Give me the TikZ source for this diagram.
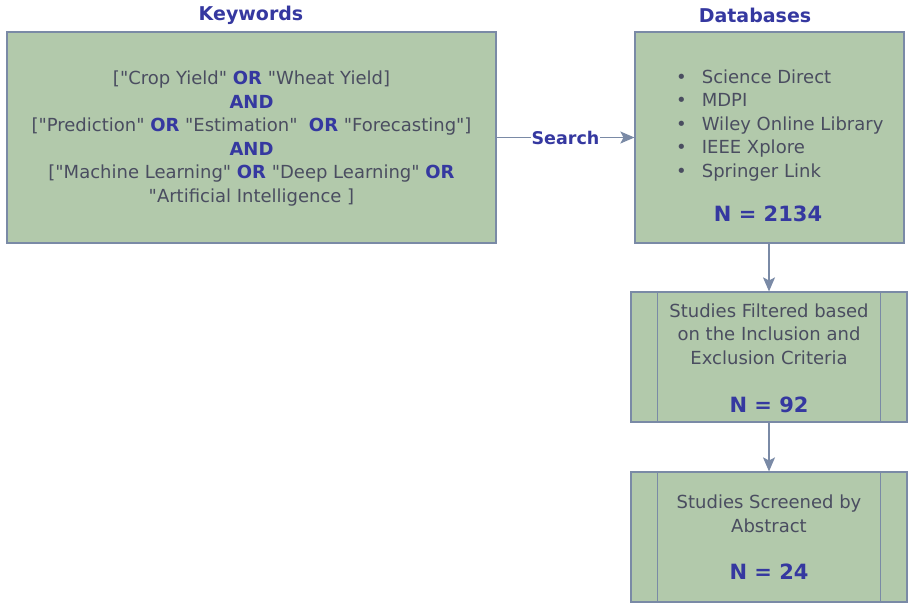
\documentclass[tikz,border=0pt]{standalone}
\usepackage{fontspec}
\setmainfont{DejaVu Sans}[Ligatures=TeXOff]
\usepackage{xcolor}
\usetikzlibrary{arrows.meta,calc}
\definecolor{boxfill}{HTML}{B2C9AB}
\definecolor{boxline}{HTML}{7A8AA6}
\definecolor{txtgrey}{HTML}{4A4D60}
\definecolor{kwblue}{HTML}{3538A0}
\newcommand{\kw}[1]{\textcolor{kwblue}{\textbf{#1}}}

\begin{document}
\begin{tikzpicture}[x=1pt, y=-1pt,
  box/.style={draw=boxline, fill=boxfill, line width=1.2pt, inner sep=0pt},
  body/.style={text=txtgrey, font=\fontsize{18}{23.5}\selectfont, align=center, inner sep=0pt},
  title/.style={text=kwblue, font=\fontsize{19}{22}\selectfont\bfseries, inner sep=0pt},
  count/.style={text=kwblue, font=\fontsize{21}{24}\selectfont\bfseries, inner sep=0pt},
  flow/.style={draw=boxline, line width=1.2pt, -{Stealth[length=14pt,width=12pt,inset=3pt]}},
]
\useasboundingbox (0,0) rectangle (909,605);
% search terms
\node[box, minimum width=489pt, minimum height=211pt] (kwbox) at (251.5,137.5) {};
\node[title] (kwtitle) at (251,15) {Keywords};
\node[body] (kwtext) at (251.5,138.5) {{[}"Crop Yield" \kw{OR} "Wheat Yield]\\
  \kw{AND}\\
  {[}"Prediction" \kw{OR} "Estimation"\ \ \kw{OR} "Forecasting"]\\
  \kw{AND}\\
  {[}"Machine Learning" \kw{OR} "Deep Learning" \kw{OR}\\
  "Artificial Intelligence ]};
% databases
\node[box, minimum width=269pt, minimum height=211pt] (dbbox) at (769.5,137.5) {};
\node[title] (dbtitle) at (755,15) {Databases};
\node[body, align=left, anchor=west] (dblist) at (676,125.5) {%
  \textbullet\hspace{15pt}Science Direct\\
  \textbullet\hspace{15pt}MDPI\\
  \textbullet\hspace{15pt}Wiley Online Library\\
  \textbullet\hspace{15pt}IEEE Xplore\\
  \textbullet\hspace{15pt}Springer Link};
\node[count] (dbn) at (768,214) {N\ =\ 2134};
% filtering steps
\node[box, minimum width=276pt, minimum height=130pt] (filt) at (769,357) {};
\draw[boxline, line width=1.2pt] ($(filt.north west)+(27,0)$) -- ($(filt.south west)+(27,0)$);
\draw[boxline, line width=1.2pt] ($(filt.north east)+(-27,0)$) -- ($(filt.south east)+(-27,0)$);
\node[body] (filttext) at (769,334) {Studies Filtered based\\on the Inclusion and\\Exclusion Criteria};
\node[count] (filtn) at (769,405) {N\ =\ 92};
\node[box, minimum width=276pt, minimum height=130pt] (scr) at (769,537) {};
\draw[boxline, line width=1.2pt] ($(scr.north west)+(27,0)$) -- ($(scr.south west)+(27,0)$);
\draw[boxline, line width=1.2pt] ($(scr.north east)+(-27,0)$) -- ($(scr.south east)+(-27,0)$);
\node[body] (scrtext) at (769,514) {Studies Screened by\\Abstract};
\node[count] (scrn) at (769,572) {N\ =\ 24};
% connectors
\draw[flow] (kwbox.east) -- node[fill=white, text=kwblue, font=\fontsize{17.5}{20}\selectfont\bfseries, inner sep=1pt] (srch) {Search} (dbbox.west);
\draw[flow] (dbbox.south -| filt.north) -- (filt.north);
\draw[flow] (filt.south) -- (scr.north);
\end{tikzpicture}
\end{document}
